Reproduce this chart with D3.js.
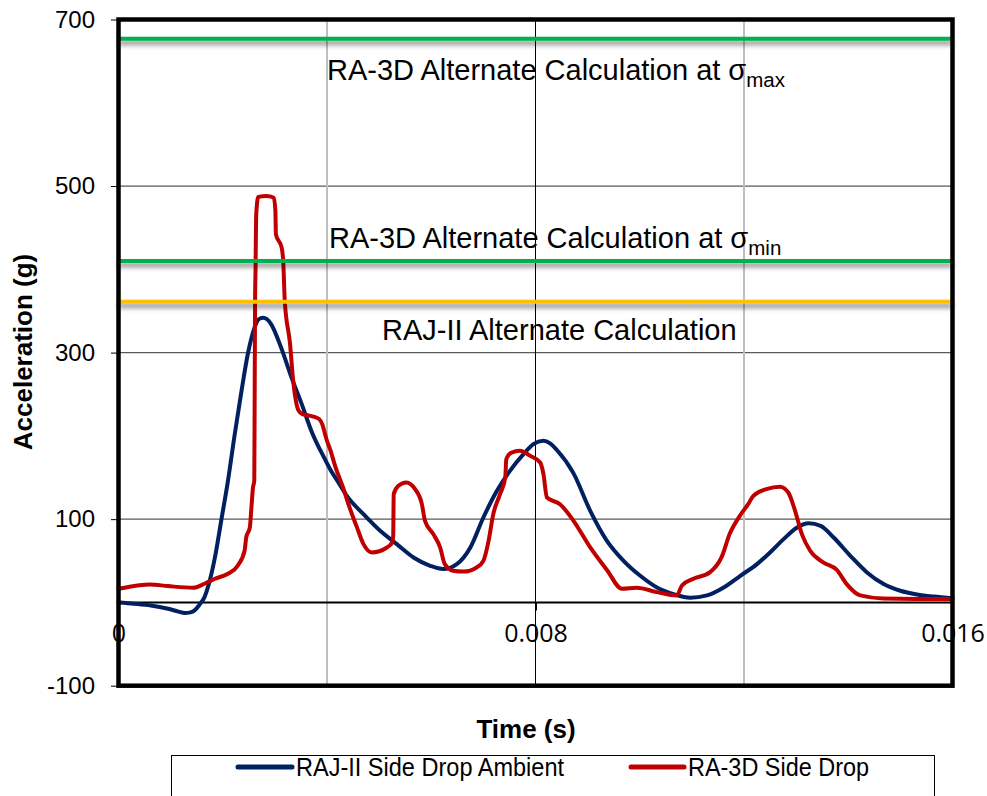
<!DOCTYPE html>
<html>
<head>
<meta charset="utf-8">
<script src="https://cdn.jsdelivr.net/npm/d3@7"></script>
<style>
  body { margin: 0; background: #fff; }
  svg { display: block; font-family: "Liberation Sans", Arial, sans-serif; }
</style>
</head>
<body>
<svg id="chart" width="987" height="796"></svg>
<script>
// RAJ-II Side Drop Ambient: [time (s), acceleration (g)]
const rajAmbient = [
  [0, 0], [0.00030, -1.5], [0.00062, -3.6], [0.00095, -7.6], [0.00115, -11],
  [0.00127, -12.8], [0.00138, -12], [0.00146, -9.6], [0.00155, -3], [0.00165, 6.4],
  [0.00175, 26], [0.00185, 54], [0.00197, 98], [0.00210, 146], [0.00223, 202],
  [0.00236, 254], [0.00248, 298], [0.00261, 330], [0.00269, 340], [0.00277, 342],
  [0.00285, 340], [0.00293, 334], [0.00312, 306], [0.00332, 270], [0.00351, 239],
  [0.00370, 206], [0.00396, 172], [0.00406, 160], [0.00421, 145], [0.00438, 128],
  [0.00470, 106], [0.00502, 86], [0.00534, 70], [0.00566, 54], [0.00598, 44],
  [0.00623, 40], [0.00649, 46], [0.00675, 66], [0.00700, 102], [0.00726, 134],
  [0.00751, 158], [0.00777, 178], [0.00796, 190], [0.00815, 194], [0.00828, 191],
  [0.00841, 183], [0.00873, 155], [0.00905, 110], [0.00937, 74], [0.00969, 50],
  [0.01001, 32], [0.01033, 18], [0.01065, 10], [0.01097, 5.6], [0.01129, 8.4],
  [0.01161, 18], [0.01193, 32], [0.01225, 46], [0.01250, 60], [0.01276, 76],
  [0.01302, 90], [0.01324, 95], [0.01347, 92], [0.01372, 78], [0.01404, 56],
  [0.01436, 36], [0.01468, 22], [0.01500, 14], [0.01532, 9.6], [0.01564, 7],
  [0.01600, 5]
];

// RA-3D Side Drop: [time (s), acceleration (g)]
const ra3dSide = [
  [0, 16.4], [0.00037, 20.4], [0.00060, 21.6], [0.00095, 19.6], [0.00143, 17.6],
  [0.00165, 22.4], [0.00185, 28.4], [0.00210, 34.4], [0.00229, 44.4], [0.00242, 62.4],
  [0.00245, 78], [0.00252, 90], [0.00255, 114], [0.00258, 138], [0.002605, 146],
  [0.002612, 242], [0.00262, 362], [0.00263, 403], [0.00264, 463], [0.00268, 487],
  [0.00284, 488], [0.00298, 486], [0.00301, 470], [0.00302, 442], [0.00313, 426],
  [0.00316, 410], [0.00319, 362], [0.00329, 311], [0.00335, 267], [0.00345, 231],
  [0.00353, 226], [0.00361, 225], [0.00383, 221], [0.00392, 212], [0.00395, 205],
  [0.00399, 196], [0.00407, 182], [0.00416, 163], [0.00433, 134], [0.00440, 120],
  [0.00457, 91], [0.00470, 70], [0.00486, 60], [0.00515, 66], [0.00525, 72],
  [0.00527, 80], [0.00528, 130], [0.00537, 140], [0.00552, 144], [0.00569, 136],
  [0.00582, 118], [0.00588, 98], [0.00604, 82], [0.00617, 66], [0.00626, 46],
  [0.00642, 38], [0.00662, 37], [0.00687, 42], [0.00700, 50], [0.00710, 74],
  [0.00719, 106], [0.00732, 130], [0.00742, 150], [0.00744, 172], [0.00754, 180],
  [0.00770, 182], [0.00790, 176], [0.00809, 168], [0.00815, 155], [0.00822, 126],
  [0.00847, 118], [0.00873, 98], [0.00905, 66], [0.00937, 39], [0.00966, 16.4],
  [0.00994, 17.6], [0.01033, 12.4], [0.01071, 8.4], [0.01081, 20.4], [0.01103, 28.4],
  [0.01135, 36.4], [0.01157, 54.4], [0.01173, 83], [0.01192, 104], [0.01208, 118],
  [0.01218, 128], [0.01243, 136], [0.01269, 139], [0.01285, 132], [0.01298, 110],
  [0.01311, 82], [0.01327, 62], [0.01352, 48], [0.01378, 39], [0.01397, 22],
  [0.01423, 8.4], [0.01467, 4.8], [0.01595, 4], [0.01600, 4]
];

const seriesNames = ["RAJ-II Side Drop Ambient", "RA-3D Side Drop"];

// alternate calculation limits (g)
const limitValues = [677, 410, 361];
const limitLabels = ["RA-3D Alternate Calculation at σ", "RA-3D Alternate Calculation at σ", "RAJ-II Alternate Calculation"];
const limitSubs = ["max", "min", ""];

const yTickValues = [-100, 100, 300, 500, 700];
const yTickLabels = ["-100", "100", "300", "500", "700"];
const yGridValues = [100, 300, 500];
const xTickValues = [0, 0.008, 0.016];
const xTickLabels = ["0", "0.008", "0.016"];
const xMinorValues = [0.004, 0.012];

const seriesColors = ["#002060", "#C00000"];
const limitColors = ["#00B050", "#00B050", "#FFC000"];

const svg = d3.select("#chart");
const x = d3.scaleLinear().domain([0, 0.016]).range([118.5, 952.5]);
const y = d3.scaleLinear().domain([-100, 700]).range([685.7, 19.5]);

// shadow under the limit lines
svg.append("defs").append("filter")
  .attr("id", "shadow")
  .attr("filterUnits", "userSpaceOnUse")
  .attr("x", 0).attr("y", 0).attr("width", 987).attr("height", 796)
  .append("feDropShadow")
  .attr("dx", 0).attr("dy", 4).attr("stdDeviation", 2.5)
  .attr("flood-color", "#000").attr("flood-opacity", 0.5);

// --- grid ---
svg.append("g").selectAll("line")
  .data(yGridValues)
  .join("line")
  .attr("x1", x(0)).attr("x2", x(0.016))
  .attr("y1", d => y(d)).attr("y2", d => y(d))
  .attr("stroke", "#595959").attr("stroke-width", 1.2);

svg.append("g").selectAll("line")
  .data(xMinorValues)
  .join("line")
  .attr("x1", d => x(d)).attr("x2", d => x(d))
  .attr("y1", y(700)).attr("y2", y(-100))
  .attr("stroke", "#BFBFBF").attr("stroke-width", 2);

svg.append("line")
  .attr("x1", x(0.008)).attr("x2", x(0.008))
  .attr("y1", y(700)).attr("y2", y(-100))
  .attr("stroke", "#000").attr("stroke-width", 1);

svg.append("line")
  .attr("x1", x(0)).attr("x2", x(0.016))
  .attr("y1", y(0)).attr("y2", y(0))
  .attr("stroke", "#000").attr("stroke-width", 2);

// --- axes ---
const yAxis = svg.append("g")
  .attr("transform", `translate(${x(0)},0)`)
  .call(d3.axisLeft(y).tickValues(yTickValues).tickSize(7.5).tickPadding(16)
    .tickFormat((d, i) => yTickLabels[i]));
yAxis.select(".domain").remove();
yAxis.selectAll("line").attr("stroke", "#000");
yAxis.selectAll("text")
  .attr("font-family", "'Liberation Sans', Arial, sans-serif")
  .attr("font-size", 24).attr("fill", "#000");

const xAxis = svg.append("g")
  .attr("transform", `translate(0,${y(0)})`)
  .call(d3.axisBottom(x).tickValues(xTickValues).tickSize(8)
    .tickFormat((d, i) => xTickLabels[i]));
xAxis.select(".domain").remove();
xAxis.selectAll("line").attr("stroke", "#000").attr("stroke-width", 2);
xAxis.selectAll("text")
  .attr("y", 40).attr("dy", 0)
  .attr("font-family", "'Open Sans', sans-serif")
  .attr("font-size", 25).attr("fill", "#000");

// --- data lines ---
const line = d3.line()
  .x(d => x(d[0]))
  .y(d => y(d[1]))
  .curve(d3.curveMonotoneX);

svg.append("g").selectAll("path")
  .data([rajAmbient, ra3dSide])
  .join("path")
  .attr("d", line)
  .attr("fill", "none")
  .attr("stroke", (d, i) => seriesColors[i])
  .attr("stroke-width", 4)
  .attr("stroke-linejoin", "round")
  .attr("stroke-linecap", "round");

// --- limit lines ---
svg.append("g").selectAll("line")
  .data(limitValues)
  .join("line")
  .attr("x1", x(0)).attr("x2", x(0.016))
  .attr("y1", d => y(d)).attr("y2", d => y(d))
  .attr("stroke", (d, i) => limitColors[i])
  .attr("stroke-width", 4)
  .attr("filter", "url(#shadow)");

const labelPos = [[327, 80], [329, 248], [382, 340]];
const labels = svg.append("g").selectAll("text")
  .data(limitLabels)
  .join("text")
  .attr("x", (d, i) => labelPos[i][0])
  .attr("y", (d, i) => labelPos[i][1])
  .attr("font-size", 29)
  .attr("fill", "#000");
labels.append("tspan").text(d => d);
labels.append("tspan")
  .attr("font-size", 20.5)
  .attr("dy", 7)
  .text((d, i) => limitSubs[i]);

// plot frame
svg.append("rect")
  .attr("x", x(0)).attr("y", y(700))
  .attr("width", x(0.016) - x(0)).attr("height", y(-100) - y(700))
  .attr("fill", "none").attr("stroke", "#000").attr("stroke-width", 4.5);

// --- titles ---
svg.append("text")
  .attr("transform", "translate(32,352) rotate(-90)")
  .attr("text-anchor", "middle")
  .attr("font-weight", "bold").attr("font-size", 26)
  .text("Acceleration (g)");

svg.append("text")
  .attr("x", 526).attr("y", 738)
  .attr("text-anchor", "middle")
  .attr("font-weight", "bold").attr("font-size", 26)
  .text("Time (s)");

// --- legend ---
svg.append("rect")
  .attr("x", 171.5).attr("y", 755.5)
  .attr("width", 763).attr("height", 60)
  .attr("fill", "#fff").attr("stroke", "#000").attr("stroke-width", 1);

const legendPos = [[238, 296, 268], [631, 688, 181]];
const legend = svg.append("g").selectAll("g")
  .data(seriesNames)
  .join("g");
legend.append("line")
  .attr("x1", (d, i) => legendPos[i][0]).attr("x2", (d, i) => legendPos[i][1] - 4)
  .attr("y1", 767).attr("y2", 767)
  .attr("stroke", (d, i) => seriesColors[i])
  .attr("stroke-width", 5).attr("stroke-linecap", "round");
legend.append("text")
  .attr("x", (d, i) => legendPos[i][1]).attr("y", 776)
  .attr("font-size", 25)
  .attr("textLength", (d, i) => legendPos[i][2])
  .attr("lengthAdjust", "spacingAndGlyphs")
  .text(d => d);
</script>
</body>
</html>
